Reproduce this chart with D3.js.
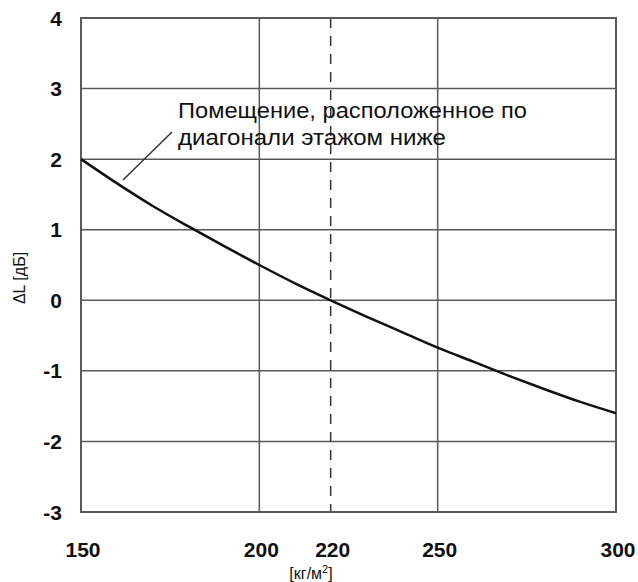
<!DOCTYPE html>
<html><head><meta charset="utf-8">
<script src="https://cdn.jsdelivr.net/npm/d3@7"></script>
<style>body{margin:0;background:#fff}</style>
</head><body>
<svg id="c" width="638" height="582"></svg>
<script>
const massValues = [150,160,170,180,190,200,210,220,230,240,250,260,270,280,290,300];
const deltaL = [2.0,1.66,1.34,1.05,0.77,0.5,0.24,0,-0.23,-0.45,-0.67,-0.87,-1.07,-1.26,-1.44,-1.6];
const xTicks = [150,200,220,250,300];
const xGrid = [200,250];
const refMass = [220];
const yTicks = [-3,-2,-1,0,1,2,3,4];
const annotation = ["Помещение, расположенное по","диагонали этажом ниже"];
const yTitle = "ΔL [дБ]";

const FONT = "Liberation Sans, Arial, sans-serif";
const svg = d3.select("#c");
const m = {l:81, r:616, t:18, b:512};
const x = d3.scaleLinear().domain([150,300]).range([m.l,m.r]);
const y = d3.scaleLinear().domain([-3,4]).range([m.b,m.t]);
const grid = "#5a5a5a";

svg.append("g").selectAll("line").data(yTicks).join("line")
  .attr("x1",m.l).attr("x2",m.r).attr("y1",d=>y(d)).attr("y2",d=>y(d))
  .attr("stroke",grid).attr("stroke-width",1.5);
svg.append("g").selectAll("line").data(xGrid).join("line")
  .attr("x1",d=>x(d)).attr("x2",d=>x(d)).attr("y1",m.t).attr("y2",m.b)
  .attr("stroke",grid).attr("stroke-width",1.5);
svg.append("g").selectAll("line").data(refMass).join("line")
  .attr("x1",d=>x(d)).attr("x2",d=>x(d)).attr("y1",m.t).attr("y2",m.b)
  .attr("stroke","#333").attr("stroke-width",1.5).attr("stroke-dasharray","10,8");
svg.append("rect").attr("x",m.l).attr("y",m.t).attr("width",m.r-m.l).attr("height",m.b-m.t)
  .attr("fill","none").attr("stroke",grid).attr("stroke-width",2);

// y tick labels
svg.append("g").selectAll("text").data(yTicks).join("text")
  .attr("x",62).attr("y",d=>y(d)).attr("dy","0.36em").attr("text-anchor","end")
  .attr("font-family",FONT).attr("font-weight","bold")
  .attr("font-size",21).attr("fill","#111").text(d=>d);
// x tick labels
svg.append("g").selectAll("text").data(xTicks).join("text")
  .attr("x",d=>x(d)+2).attr("y",557).attr("text-anchor","middle")
  .attr("font-family",FONT).attr("font-weight","bold")
  .attr("font-size",21).attr("fill","#111").text(d=>d);
// x unit
const u = svg.append("text").attr("x",311).attr("y",579).attr("text-anchor","middle")
  .attr("font-family",FONT).attr("font-size",16).attr("fill","#111");
u.append("tspan").text("[кг/м");
u.append("tspan").attr("font-size",11).attr("dy",-6).text("2");
u.append("tspan").attr("dy",6).text("]");
// y title
svg.append("text").attr("transform","translate(25,278) rotate(-90)").attr("text-anchor","middle")
  .attr("font-family",FONT).attr("font-size",16).attr("fill","#111")
  .text(yTitle);

// curve
const pts = massValues.map((v,i)=>[v,deltaL[i]]);
svg.append("path").datum(pts)
  .attr("d",d3.line().x(d=>x(d[0])).y(d=>y(d[1])).curve(d3.curveMonotoneX))
  .attr("fill","none").attr("stroke","#111").attr("stroke-width",2.5);

// annotation
svg.append("line").attr("x1",123).attr("y1",180).attr("x2",172).attr("y2",132)
  .attr("stroke","#333").attr("stroke-width",1.5);
const lens = [349, 268];
svg.append("g").selectAll("text").data(annotation).join("text")
  .attr("x",178).attr("y",(d,i)=>118+i*27)
  .attr("textLength",(d,i)=>lens[i]).attr("lengthAdjust","spacingAndGlyphs")
  .attr("font-family",FONT).attr("font-size",22).attr("fill","#111")
  .text(d=>d);
</script>
</body></html>
